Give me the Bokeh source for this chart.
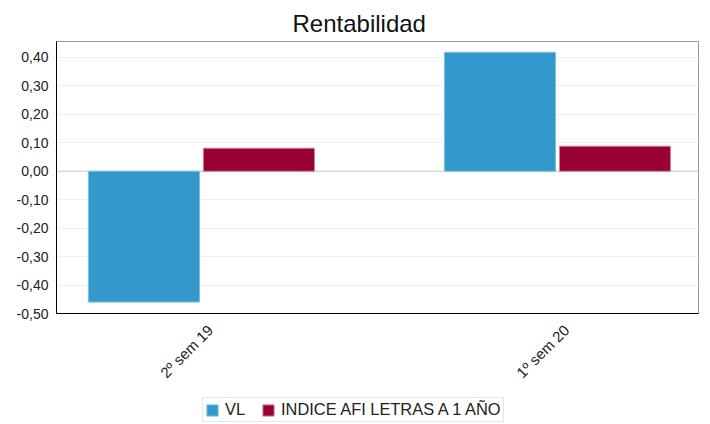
import math
from bokeh.plotting import figure
from bokeh.layouts import column
from bokeh.models import (Range1d, FixedTicker, Legend, LegendItem, Span,
                          ColumnDataSource)
from bokeh.embed import file_html
from bokeh.resources import INLINE

categories = ["2º sem 19", "1º sem 20"]
vl = [-0.46, 0.418]
indice = [0.081, 0.088]
series_names = ["VL", "INDICE AFI LETRAS A 1 AÑO"]
y_ticks = [-0.5, -0.4, -0.3, -0.2, -0.1, 0.0, 0.1, 0.2, 0.3, 0.4]
y_tick_labels = ["-0,50", "-0,40", "-0,30", "-0,20", "-0,10", "0,00",
                 "0,10", "0,20", "0,30", "0,40"]

FONT = "Liberation Sans"
BLUE = "#3399cc"
RED = "#990033"
BLUE_EDGE = "#7cc0e0"
RED_EDGE = "#d080a0"

p = figure(width=702, height=390, output_backend="svg", toolbar_location=None,
           x_range=Range1d(-0.407, 1.396), y_range=Range1d(-0.5, 0.456),
           min_border_left=56, min_border_right=4, min_border_top=41,
           min_border_bottom=76)

p.title.text = "Rentabilidad"
p.title.align = "left"
p.title.text_font = FONT
p.title.text_font_size = "24px"
p.title.text_font_style = "normal"
p.title.text_color = "#111111"
p.title.offset = 236

xs = list(range(len(categories)))
src = ColumnDataSource(dict(
    x1=[x - 0.1615 for x in xs], x2=[x + 0.1615 for x in xs],
    vl=vl, ind=indice))

r1 = p.vbar(x="x1", top="vl", bottom=0, width=0.312, source=src,
            fill_color=BLUE, line_color=BLUE_EDGE, line_width=1)
r2 = p.vbar(x="x2", top="ind", bottom=0, width=0.312, source=src,
            fill_color=RED, line_color=RED_EDGE, line_width=1)

zero = Span(location=0, dimension="width", line_color="#cccccc", line_width=1,
            level="underlay")
p.add_layout(zero)

p.xgrid.visible = False
p.ygrid.grid_line_color = "#f0f0f0"
p.ygrid.ticker = FixedTicker(ticks=y_ticks)

p.outline_line_color = "#999999"

p.yaxis.ticker = FixedTicker(ticks=y_ticks)
p.yaxis.major_label_overrides = dict(zip(y_ticks, y_tick_labels))
p.yaxis.major_tick_out = 0
p.yaxis.major_tick_in = 0
p.yaxis.minor_tick_out = 0
p.yaxis.minor_tick_in = 0
p.yaxis.axis_line_color = "black"
p.yaxis.major_label_text_font = FONT
p.yaxis.major_label_text_font_size = "14px"
p.yaxis.major_label_text_color = "#222222"
p.yaxis.major_label_standoff = 8

label_ticks = [x + 0.025 for x in xs]
p.xaxis.ticker = FixedTicker(ticks=label_ticks)
p.xaxis.major_label_overrides = dict(zip(label_ticks, categories))
p.xaxis.major_label_orientation = math.pi / 4
p.xaxis.major_tick_out = 0
p.xaxis.major_tick_in = 0
p.xaxis.minor_tick_out = 0
p.xaxis.minor_tick_in = 0
p.xaxis.axis_line_color = "black"
p.xaxis.major_label_text_font = FONT
p.xaxis.major_label_text_font_size = "15px"
p.xaxis.major_label_text_color = "#222222"
p.xaxis.major_label_standoff = 14

# legend strip below the chart (its bars lie outside its visible range)
lg = figure(width=702, height=33, output_backend="svg", toolbar_location=None,
            x_range=Range1d(10, 11), y_range=Range1d(10, 11),
            min_border=0, outline_line_color=None)
lg.axis.visible = False
lg.grid.visible = False
l1 = lg.vbar(x="x1", top="vl", bottom=0, width=0.312, source=src,
             fill_color=BLUE, line_color=BLUE_EDGE)
l2 = lg.vbar(x="x2", top="ind", bottom=0, width=0.312, source=src,
             fill_color=RED, line_color=RED_EDGE)

legend = Legend(items=[LegendItem(label=series_names[0], renderers=[l1]),
                       LegendItem(label=series_names[1], renderers=[l2])],
                orientation="horizontal", location=(146, 1),
                label_text_font=FONT, label_text_font_size="16.4px",
                label_text_color="#222222",
                glyph_width=14, glyph_height=14, label_standoff=6,
                spacing=16, padding=2, margin=0,
                border_line_color="#cccccc", border_line_width=1,
                label_height=16)
lg.add_layout(legend, "center")

layout = column(p, lg, spacing=0)
open("out.html", "w").write(file_html(layout, INLINE))
